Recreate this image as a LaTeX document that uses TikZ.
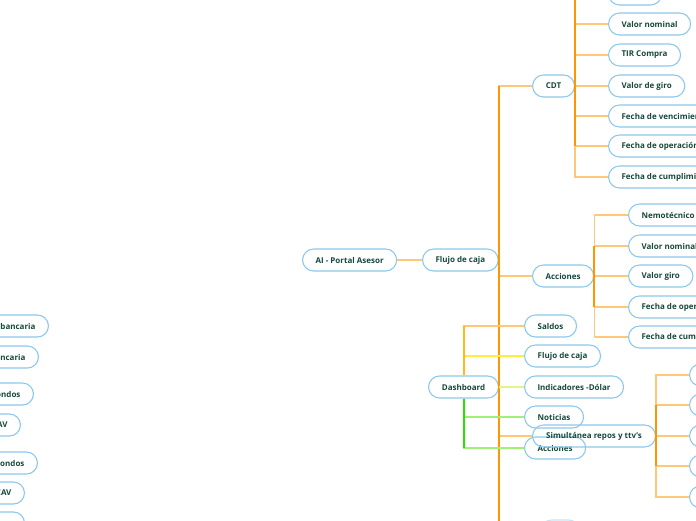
\documentclass[tikz,border=0pt]{standalone}
\usepackage{fontspec}
\setmainfont{Open Sans}
\usepackage{tikz}
\definecolor{mapblue}{RGB}{140,200,235}
\definecolor{mapink}{RGB}{22,72,56}
\definecolor{maporange}{RGB}{255,150,0}
\definecolor{maplight}{RGB}{255,200,120}
\definecolor{mapyellow}{RGB}{255,238,60}
\definecolor{maplime}{RGB}{225,245,140}
\definecolor{mapgreen}{RGB}{40,225,0}
\definecolor{mapmint}{RGB}{160,240,120}
\tikzset{
  topic/.style={draw=mapblue, line width=1.1pt, rounded corners=11pt, anchor=west,
    minimum height=22pt, inner xsep=13pt, inner ysep=0pt, text=mapink,
    font=\fontsize{8}{9}\selectfont\bfseries},
  lefttopic/.style={topic, anchor=east},
  link/.style={line width=1.3pt, maplight},
  spine/.style={line width=2.2pt, maporange}
}

\begin{document}
\begin{tikzpicture}[x=1pt,y=-1pt]
  \useasboundingbox (0,0) rectangle (696,520);
  \clip (0,0) rectangle (696,520);
  % root and first branch
  \node[topic, minimum width=93pt] (root) at (302,260) {AI - Portal Asesor};
  \node[topic, minimum width=75pt] (flujo) at (422,260) {Flujo de caja};
  % CDT
  \node[topic, minimum width=42pt] (cdt) at (532,86) {CDT};
  \node[topic, minimum width=53pt] (cdt0) at (608,-6) {};
  \node[topic, minimum width=82pt] (cdt1) at (608,24) {Valor nominal};
  \node[topic, minimum width=72pt] (cdt2) at (608,55) {TIR Compra};
  \node[topic, minimum width=76pt] (cdt3) at (608,86) {Valor de giro};
  \node[topic] (cdt4) at (608,116) {Fecha de vencimiento};
  \node[topic] (cdt5) at (608,146) {Fecha de operación};
  \node[topic] (cdt6) at (608,177) {Fecha de cumplimiento};
  % Acciones
  \node[topic, minimum width=60pt] (acc) at (532,276) {Acciones};
  \node[topic] (acc1) at (628,215) {Nemotécnico};
  \node[topic] (acc2) at (628,246) {Valor nominal};
  \node[topic, minimum width=64pt] (acc3) at (628,276) {Valor giro};
  \node[topic] (acc4) at (628,307) {Fecha de operación};
  \node[topic] (acc5) at (628,337) {Fecha de cumplimiento};
  % Dashboard
  \node[topic, minimum width=70pt] (dash) at (428,387) {Dashboard};
  \node[topic, minimum width=52pt] (saldos) at (524,326) {Saldos};
  \node[topic, minimum width=76pt] (flujob) at (524,356) {Flujo de caja};
  \node[topic, minimum width=99pt] (indic) at (524,387) {Indicadores -Dólar};
  \node[topic, minimum width=59pt] (notic) at (524,417) {Noticias};
  \node[topic, minimum width=61pt] (accb) at (524,448) {Acciones};
  % Simultanea
  \node[topic, minimum width=123pt] (simul) at (532,436) {Simultánea repos y ttv's};
  \foreach \i/\y in {1/375,2/405,3/436,4/466,5/497}
    \node[topic, minimum width=60pt] (sim\i) at (689,\y) {};
  \node[topic, minimum width=39pt, draw=mapblue!50] (bottom) at (540,531) {};
  % left cut-off topics
  \node[lefttopic] (left1) at (49,326) {bancaria};
  \node[lefttopic] (left2) at (39,357) {ncaria};
  \node[lefttopic] (left3) at (34,394) {ondos};
  \node[lefttopic] (left4) at (21,425) {AV};
  \node[lefttopic] (left5) at (38,463) {ondos};
  \node[lefttopic] (left6) at (25,493) {CAV};
  \node[lefttopic, minimum width=60pt] (left7) at (25,523) {};

  % connectors
  \draw[link] (root) -- (flujo);
  \foreach \n in {cdt,acc,simul,bottom}
    \draw[link] (flujo.east) |- (\n.west);
  \draw[spine] (flujo.east |- cdt.west) -- (flujo.east |- bottom.west);
  \foreach \n in {cdt0,cdt1,cdt2,cdt3,cdt4,cdt5,cdt6}
    \draw[link] (cdt.east) |- (\n.west);
  \draw[spine] (cdt.east |- cdt0.west) -- (cdt.east |- cdt5.west);
  \foreach \n in {acc1,acc2,acc3,acc4,acc5}
    \draw[link] (acc.east) |- (\n.west);
  \draw[spine] (acc.east |- acc2.west) -- (acc.east |- acc4.west);
  \foreach \n in {sim1,sim2,sim3,sim4,sim5}
    \draw[link] (simul.east) |- (\n.west);
  \draw[spine] (simul.east |- sim2.west) -- (simul.east |- sim4.west);
  \draw[link] (dash.north) |- (saldos.west);
  \draw[link, mapyellow] (dash.north) |- (flujob.west);
  \draw[link, maplime] (dash.east) -- (indic.west);
  \draw[link, mapmint] (dash.south) |- (notic.west);
  \draw[link, mapmint] (dash.south) |- (accb.west);
  \draw[spine, line width=2pt, mapyellow!40!maporange] (dash.north) -- (dash.north |- saldos.west);
  \draw[spine, line width=2pt, mapgreen] (dash.south) -- (dash.south |- accb.west);
\end{tikzpicture}
\end{document}
